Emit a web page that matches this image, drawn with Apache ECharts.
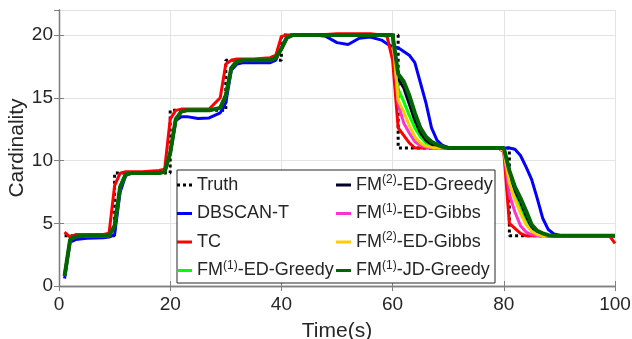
<!DOCTYPE html>
<html>
<head>
<meta charset="utf-8">
<script src="https://cdn.jsdelivr.net/npm/echarts@6/dist/echarts.min.js"></script>
<style>
  html, body { margin: 0; padding: 0; background: #fff; }
  #chart { width: 632px; height: 339px; }
</style>
</head>
<body>
<div id="chart"></div>
<script>
// cardinality over time: ground truth steps vs. tracker estimates
const FONT = '"Liberation Sans", Arial, sans-serif';
const INK = '#262626';
const AXIS = '#808080';
const GRID = '#e3e3e3';

const truthTime = [1, 10, 10, 20, 20, 30, 30, 40, 40, 61, 61, 81, 81, 100];
const truthVal  = [4, 4, 9, 9, 14, 14, 18, 18, 20, 20, 11, 11, 4, 4];

// shared sample times for the estimated curves
const time = [
  1, 2, 3, 5, 8,      9, 10, 11, 12, 13,   15, 18, 19, 20, 21,   22, 23, 25, 27, 29,
  30, 31, 32, 33, 35, 38, 39, 40, 41, 42,  44, 46, 48, 50, 52,   54, 56, 58, 59, 60,
  61, 62, 63, 64, 65, 66, 67, 68, 69, 70,  72, 75, 78, 79, 80,   81, 82, 83, 84, 85,
  86, 87, 88, 89, 90, 92, 95, 98, 99, 100,
];

const dbscan = [
  0.6, 3.5, 3.7, 3.8, 3.85,      3.9, 4.1, 7.5, 8.8, 9.0,       9.0, 9.0, 9.1, 10.5, 13.2,     13.5, 13.5, 13.35, 13.4, 13.8,
  14.6, 17.2, 17.7, 17.8, 17.8,  17.8, 18.0, 19.0, 19.9, 20.0,  20.0, 20.0, 19.9, 19.4, 19.25, 19.75, 19.85, 19.6, 19.3, 19.1,
  19.0, 18.7, 18.4, 17.8, 16.2,  14.6, 12.6, 11.6, 11.2, 11.05, 11.0, 11.0, 11.0, 11.0, 11.0,  11.0, 10.9, 10.4, 9.5, 8.5,
  7.0, 5.4, 4.5, 4.15, 4.05,     4.0, 4.0, 4.0, 4.0, 4.0,
];

const tc = [
  4.3, 3.9, 4.1, 4.1, 4.1,       4.2, 8.0, 9.0, 9.1, 9.1,       9.1, 9.2, 9.3, 13.3, 14.0,     14.1, 14.1, 14.1, 14.1, 15.0,
  17.7, 18.0, 18.1, 18.1, 18.1,  18.2, 18.4, 19.9, 20.0, 20.0,  20.0, 20.0, 20.05, 20.1, 20.1, 20.1, 20.1, 20.0, 19.9, 18.0,
  12.6, 12.0, 11.4, 11.0, 11.0,  11.0, 11.0, 11.0, 11.0, 11.0,  11.0, 11.0, 11.0, 11.0, 10.7,  5.0, 4.6, 4.2, 4.0, 4.0,
  4.0, 4.0, 4.0, 4.0, 4.0,       4.0, 4.0, 4.0, 4.0, 3.4,
];

const fm1EdGreedy = [
  0.8, 3.7, 3.95, 4.0, 4.0,      4.0, 4.8, 7.9, 8.9, 9.0,       9.0, 9.0, 9.1, 10.6, 13.3,     13.9, 14.0, 14.0, 14.0, 14.2,
  15.2, 17.4, 17.9, 18.0, 18.0,  18.0, 18.2, 18.9, 19.8, 20.0,  20.0, 20.0, 20.0, 20.0, 20.0,  20.0, 20.0, 20.0, 20.0, 20.0,
  15.7, 14.7, 13.6, 12.6, 11.9,  11.4, 11.2, 11.05, 11.0, 11.0, 11.0, 11.0, 11.0, 11.0, 10.9,  8.5, 7.2, 6.2, 5.2, 4.5,
  4.2, 4.05, 4.0, 4.0, 4.0,      4.0, 4.0, 4.0, 4.0, 4.0,
];

const fm2EdGreedy = [
  0.8, 3.7, 3.95, 4.0, 4.0,      4.0, 4.8, 7.9, 8.9, 9.0,       9.0, 9.0, 9.1, 10.6, 13.3,     13.9, 14.0, 14.0, 14.0, 14.2,
  15.2, 17.4, 17.9, 18.0, 18.0,  18.0, 18.2, 18.9, 19.8, 20.0,  20.0, 20.0, 20.0, 20.0, 20.0,  20.0, 20.0, 20.0, 20.0, 20.0,
  16.5, 15.8, 14.5, 13.2, 12.2,  11.6, 11.3, 11.1, 11.0, 11.0,  11.0, 11.0, 11.0, 11.0, 11.0,  9.0, 7.6, 6.7, 5.6, 4.7,
  4.3, 4.1, 4.0, 4.0, 4.0,       4.0, 4.0, 4.0, 4.0, 4.0,
];

const fm1EdGibbs = [
  0.8, 3.7, 3.95, 4.0, 4.0,      4.0, 4.8, 7.9, 8.9, 9.0,       9.0, 9.0, 9.1, 10.6, 13.3,     13.9, 14.0, 14.0, 14.0, 14.2,
  15.2, 17.4, 17.9, 18.0, 18.0,  18.0, 18.2, 18.9, 19.8, 20.0,  20.0, 20.0, 20.0, 20.0, 20.0,  20.0, 20.0, 20.0, 20.0, 20.0,
  14.5, 13.0, 12.2, 11.5, 11.2,  11.05, 11.0, 11.0, 11.0, 11.0, 11.0, 11.0, 11.0, 11.0, 10.8,  7.3, 5.9, 4.8, 4.3, 4.1,
  4.0, 4.0, 4.0, 4.0, 4.0,       4.0, 4.0, 4.0, 4.0, 4.0,
];

const fm2EdGibbs = [
  0.8, 3.7, 3.95, 4.0, 4.0,      4.0, 4.8, 7.9, 8.9, 9.0,       9.0, 9.0, 9.1, 10.6, 13.3,     13.9, 14.0, 14.0, 14.0, 14.2,
  15.2, 17.4, 17.9, 18.0, 18.0,  18.0, 18.2, 18.9, 19.8, 20.0,  20.0, 20.0, 20.0, 20.0, 20.0,  20.0, 20.0, 20.0, 20.0, 20.0,
  14.8, 13.9, 12.8, 11.9, 11.4,  11.15, 11.05, 11.0, 11.0, 11.0, 11.0, 11.0, 11.0, 11.0, 10.8, 8.2, 6.9, 5.8, 4.9, 4.35,
  4.1, 4.0, 4.0, 4.0, 4.0,       4.0, 4.0, 4.0, 4.0, 4.0,
];

const fm1JdGreedy = [
  0.8, 3.7, 3.95, 4.0, 4.0,      4.0, 4.8, 7.9, 8.9, 9.0,       9.0, 9.0, 9.1, 10.6, 13.3,     13.9, 14.0, 14.0, 14.0, 14.2,
  15.2, 17.4, 17.9, 18.0, 18.0,  18.0, 18.2, 18.9, 19.8, 20.0,  20.0, 20.0, 20.0, 20.0, 20.0,  20.0, 20.0, 20.0, 20.0, 20.0,
  16.9, 16.3, 15.2, 13.8, 12.6,  11.9, 11.5, 11.25, 11.1, 11.0, 11.0, 11.0, 11.0, 11.0, 11.0,  9.2, 7.9, 7.0, 6.0, 4.9,
  4.4, 4.2, 4.05, 4.0, 4.0,      4.0, 4.0, 4.0, 4.0, 4.0,
];

const estimates = [
  { name: 'DBSCAN-T',        values: dbscan,      color: '#0000ff', width: 3 },
  { name: 'TC',              values: tc,          color: '#ff0000', width: 3 },
  { name: 'FM(1)-ED-Greedy', values: fm1EdGreedy, color: '#00ff00', width: 3 },
  { name: 'FM(2)-ED-Greedy', values: fm2EdGreedy, color: '#00002a', width: 3 },
  { name: 'FM(1)-ED-Gibbs',  values: fm1EdGibbs,  color: '#ff33cc', width: 3 },
  { name: 'FM(2)-ED-Gibbs',  values: fm2EdGibbs,  color: '#ffcc00', width: 3 },
  { name: 'FM(1)-JD-Greedy', values: fm1JdGreedy, color: '#006600', width: 4 },
];

const series = [{
  name: 'Truth',
  type: 'line',
  data: truthTime.map((t, i) => [t, truthVal[i]]),
  symbol: 'none',
  lineStyle: { color: '#000', width: 3, type: [3, 3] },
  itemStyle: { color: '#000' },
}].concat(estimates.map((s) => ({
  name: s.name,
  type: 'line',
  data: time.map((t, i) => [t, s.values[i]]),
  symbol: 'none',
  lineStyle: { color: s.color, width: s.width },
  itemStyle: { color: s.color },
})));

// dotted icon for the Truth entry, solid bars for the rest
const DOTS = 'path://M0,0h3v3h-3z M6,0h3v3h-3z M12,0h3v3h-3z';

const legendBase = {
  orient: 'vertical',
  top: 174,
  padding: 0,
  itemGap: 6.5,
  itemWidth: 15,
  itemHeight: 3,
  icon: 'rect',
  z: 20,
  textStyle: {
    color: INK, fontSize: 18, fontFamily: FONT, lineHeight: 22,
    rich: { sup: { fontSize: 12, fontFamily: FONT, color: INK, verticalAlign: 'top', lineHeight: 13 } },
  },
  formatter: (n) => n.replace(/^FM\((\d)\)/, 'FM{sup|($1)}'),
};

const axisLine = { lineStyle: { color: AXIS, width: 1.3 } };
const axisTick = { inside: true, length: 5, lineStyle: { color: AXIS } };

const chart = echarts.init(document.getElementById('chart'), null, { renderer: 'canvas' });
chart.setOption({
  animation: false,
  grid: { left: 59, top: 10, width: 556, height: 276, outerBoundsMode: 'none', containLabel: false },
  xAxis: [{
    type: 'value', min: 0, max: 100, interval: 20,
    axisLine, axisTick,
    axisLabel: { color: INK, fontSize: 19, fontFamily: FONT, margin: 9 },
    splitLine: { show: true, lineStyle: { color: GRID, width: 1 } },
    name: 'Time(s)', nameLocation: 'middle', nameGap: 35, nameMoveOverlap: false,
    nameTextStyle: { color: INK, fontSize: 21, fontFamily: FONT },
  }, {
    type: 'value', position: 'top', min: 0, max: 100, interval: 20,
    axisLine, axisTick, axisLabel: { show: false }, splitLine: { show: false },
  }],
  yAxis: [{
    type: 'value', min: 0, max: 22, interval: 5,
    axisLine, axisTick,
    axisLabel: { color: INK, fontSize: 19, fontFamily: FONT, margin: 6, showMaxLabel: false },
    splitLine: { show: true, lineStyle: { color: GRID, width: 1 } },
    name: 'Cardinality', nameLocation: 'middle', nameGap: 31, nameMoveOverlap: false,
    nameTextStyle: { color: INK, fontSize: 21, fontFamily: FONT },
  }, {
    type: 'value', position: 'right', min: 0, max: 22, interval: 5,
    axisLine, axisTick, axisLabel: { show: false }, splitLine: { show: false },
  }],
  legend: [
    Object.assign({}, legendBase, {
      left: 177,
      data: [{ name: 'Truth', icon: DOTS }, 'DBSCAN-T', 'TC', 'FM(1)-ED-Greedy'],
    }),
    Object.assign({}, legendBase, {
      left: 336,
      data: ['FM(2)-ED-Greedy', 'FM(1)-ED-Gibbs', 'FM(2)-ED-Gibbs', 'FM(1)-JD-Greedy'],
    }),
  ],
  graphic: [{
    type: 'rect', z: 10,
    shape: { x: 177, y: 170, width: 318, height: 113 },
    style: { fill: '#fff', stroke: INK, lineWidth: 1 },
  }],
  series,
});
</script>
</body>
</html>
